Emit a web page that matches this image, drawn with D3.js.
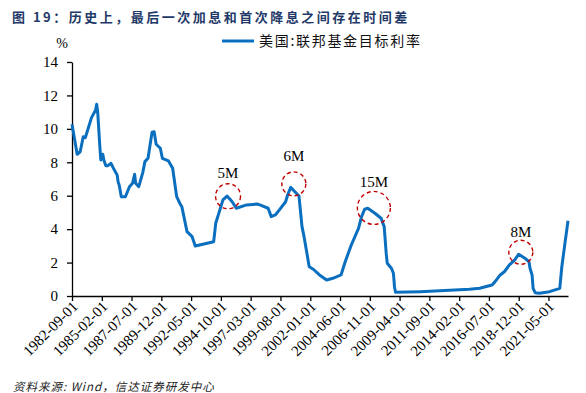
<!DOCTYPE html>
<html>
<head>
<meta charset="utf-8">
<script src="https://cdn.jsdelivr.net/npm/d3@7"></script>
<style>
  body { margin: 0; background: #fff; }
  svg { display: block; }
</style>
</head>
<body>
<div id="chart"></div>
<script>
// fed funds rate (month, %)
var rateDates = ["1982-09","1983-02","1983-05","1983-08","1983-10","1984-04","1984-08","1984-09","1984-10","1984-12",
  "1985-01","1985-03","1985-04","1985-06","1985-08","1985-11","1986-01","1986-05","1986-06","1986-07",
  "1986-09","1987-01","1987-05","1987-08","1987-10","1987-11","1988-02","1988-06","1988-08","1988-11",
  "1989-01","1989-03","1989-05","1989-07","1989-11","1990-01","1990-07","1990-11","1991-03","1991-06",
  "1991-08","1991-12","1992-01","1992-06","1992-09","1994-03","1994-05","1994-09","1994-12","1995-04",
  "1995-09","1996-01","1996-11","1997-09","1997-12","1998-08","1998-11","1999-03","1999-07","2000-01",
  "2000-03","2000-06","2000-10","2001-02","2001-05","2001-07","2001-12","2002-04","2002-10","2003-05",
  "2003-11","2004-07","2004-11","2005-05","2005-12","2006-03","2006-06","2006-09","2007-04","2007-10",
  "2008-01","2008-03","2008-04","2008-08","2008-10","2008-11","2008-12","2010-12","2014-12","2015-10",
  "2016-10","2017-01","2017-06","2017-10","2018-03","2018-08","2018-12","2019-06","2019-10","2019-11",
  "2020-01","2020-02","2020-04","2020-08","2021-06","2022-04","2022-06","2022-09","2022-12"];
var rateValues = [10.27,8.48,8.63,9.53,9.47,10.67,11.13,11.47,11.03,9.04,
  8.14,8.48,8.14,7.8,7.8,7.94,7.68,7.24,6.8,6.64,
  5.94,5.94,6.54,6.74,7.28,6.74,6.54,7.4,8.04,8.24,
  9.04,9.8,9.83,9.08,8.84,8.24,8.08,7.64,5.94,5.55,
  5.34,4.15,3.85,3.55,2.99,3.25,4.35,5.15,5.75,5.98,
  5.64,5.25,5.45,5.5,5.45,5.25,4.75,4.85,5.15,5.64,
  6.04,6.5,6.24,5.98,4.15,3.55,1.75,1.6,1.26,0.96,
  1.06,1.26,2.05,3.05,4.05,4.75,5.19,5.25,4.95,4.65,
  4.15,2.55,1.96,1.66,1.36,0.56,0.22,0.26,0.4,0.46,
  0.66,0.86,1.26,1.45,1.86,2.15,2.5,2.26,2.05,1.66,
  1.26,0.46,0.2,0.16,0.26,0.46,1.75,3.15,4.5];

var xTickLabels = ["1982-09-01","1985-02-01","1987-07-01","1989-12-01","1992-05-01","1994-10-01","1997-03-01",
  "1999-08-01","2002-01-01","2004-06-01","2006-11-01","2009-04-01","2011-09-01","2014-02-01","2016-07-01",
  "2018-12-01","2021-05-01"];
var yTicks = [0,2,4,6,8,10,12,14];

// gap markers around the last hikes
var markLabels = ["5M","6M","15M","8M"];
var markDates = ["1995-05","2000-09","2007-03","2019-02"];
var markValues = [5.97,6.71,5.27,2.62];

var titleText = "图 19：历史上，最后一次加息和首次降息之间存在时间差";
var legendText = "美国:联邦基金目标利率";
var sourceText = "资料来源: Wind，信达证券研发中心";

var width = 586, height = 393;
var margin = {top: 62, right: 18, bottom: 97, left: 72};
var widthG = width - margin.left - margin.right;
var heightG = height - margin.top - margin.bottom;

var svg = d3.select("#chart").append("svg")
  .attr("width", width)
  .attr("height", height);

var g = svg.append("g")
  .attr("transform", "translate(" + margin.left + "," + margin.top + ")");

var parseMonth = d3.timeParse("%Y-%m");
var parseDay = d3.timeParse("%Y-%m-%d");

var series = rateDates.map(function(d, i) {
  return {date: parseMonth(d), value: rateValues[i]};
});

var x = d3.scaleTime()
  .domain([parseMonth("1982-09"), parseMonth("2022-12")])
  .range([0, widthG]);

var y = d3.scaleLinear()
  .domain([0, 14])
  .range([heightG, 0]);

var serif = "'Liberation Serif', 'Times New Roman', serif";
var cjk = "'Noto Sans CJK SC', sans-serif";

//axes
var xAxis = g.append("g")
  .attr("transform", "translate(0," + heightG + ")")
  .call(d3.axisBottom(x)
    .tickValues(xTickLabels.map(parseDay))
    .tickSize(5)
    .tickSizeOuter(0)
    .tickFormat(d3.timeFormat("%Y-%m-%d")));

xAxis.selectAll("text")
  .style("text-anchor", "end")
  .style("font-family", serif)
  .style("font-size", "15px")
  .attr("fill", "#000")
  .attr("dx", "-0.25em")
  .attr("dy", "0.3em")
  .attr("transform", "rotate(-45)");

var yAxis = g.append("g")
  .call(d3.axisLeft(y)
    .tickValues(yTicks)
    .tickSize(5)
    .tickSizeOuter(0)
    .tickPadding(9));

yAxis.selectAll("text")
  .style("font-family", serif)
  .style("font-size", "15px")
  .attr("fill", "#000");

g.selectAll(".domain, .tick line")
  .attr("stroke", "#000")
  .attr("stroke-width", 1.3);

g.append("text")
  .attr("x", -10)
  .attr("y", -14)
  .attr("text-anchor", "middle")
  .style("font-family", serif)
  .style("font-size", "14px")
  .text("%");

//line
g.append("path")
  .datum(series)
  .attr("fill", "none")
  .attr("stroke", "#0B6FC0")
  .attr("stroke-width", 3)
  .attr("stroke-linejoin", "round")
  .attr("d", d3.line()
    .x(function(d) { return x(d.date); })
    .y(function(d) { return y(d.value); }));

//dashed circles and lags
var markR = [12.5, 12, 16.5, 12];
var markLift = [18.5, 23, 21, 15.5];

var marks = g.selectAll(".mark")
  .data(markLabels)
  .enter().append("g")
  .attr("class", "mark")
  .attr("transform", function(d, i) {
    return "translate(" + x(parseMonth(markDates[i])) + "," + y(markValues[i]) + ")";
  });

marks.append("circle")
  .attr("r", function(d, i) { return markR[i]; })
  .attr("fill", "none")
  .attr("stroke", "#C00000")
  .attr("stroke-width", 1.4)
  .attr("stroke-dasharray", "4,3");

marks.append("text")
  .attr("y", function(d, i) { return -markLift[i]; })
  .attr("text-anchor", "middle")
  .style("font-family", serif)
  .style("font-size", "15px")
  .text(function(d) { return d; });

//title, legend, source
svg.append("text")
  .attr("x", 12)
  .attr("y", 22)
  .style("font-family", cjk)
  .style("font-weight", "bold")
  .style("font-size", "13px")
  .style("letter-spacing", "2.5px")
  .attr("fill", "#1F3A68")
  .text(titleText);

svg.append("line")
  .attr("x1", 222).attr("x2", 254)
  .attr("y1", 41).attr("y2", 41)
  .attr("stroke", "#0B6FC0")
  .attr("stroke-width", 3);

svg.append("text")
  .attr("x", 259)
  .attr("y", 46)
  .style("font-family", cjk)
  .style("font-size", "14px")
  .style("letter-spacing", "1.7px")
  .attr("fill", "#111")
  .text(legendText);

svg.append("text")
  .attr("x", 13)
  .attr("y", 391)
  .style("font-family", cjk)
  .style("font-style", "italic")
  .style("font-size", "11.5px")
  .style("letter-spacing", "1px")
  .attr("fill", "#222")
  .text(sourceText);
</script>
</body>
</html>
